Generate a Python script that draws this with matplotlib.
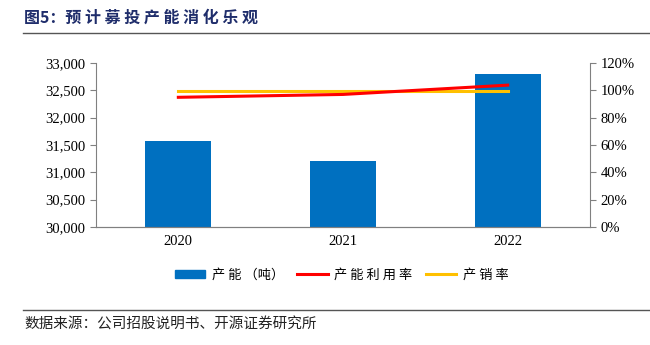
import matplotlib
matplotlib.use('Agg')
import matplotlib.pyplot as plt
from matplotlib.lines import Line2D
from matplotlib.patches import Patch
from matplotlib.ticker import FuncFormatter, PercentFormatter

plt.rcParams['font.family'] = ['Liberation Serif', 'Noto Sans CJK SC']

# data
years = ['2020', '2021', '2022']
capacity = [31580, 31205, 32800]          # 产能（吨）
utilization = [94.9, 97.0, 103.8]         # 产能利用率 %
sell_through = [99.8, 99.8, 99.8]         # 产销率 %

cjk = ['Noto Sans CJK SC', 'DejaVu Sans']

fig = plt.figure(figsize=(6.5, 3.45), dpi=100)
ax = fig.add_axes([96 / 650, 1 - 227 / 345, (590 - 96) / 650, (227 - 63) / 345])
x = range(len(years))
ax.bar(x, capacity, width=0.4, color='#0070C0', zorder=2)
ax.set_ylim(30000, 33000)
ax.set_xlim(-0.5, 2.5)
ax.set_yticks(range(30000, 33001, 500))
ax.yaxis.set_major_formatter(FuncFormatter(lambda v, p: f'{int(v):,}'))
ax.set_xticks(list(x))
ax.set_xticklabels(years)

ax2 = ax.twinx()
ax2.plot(x, sell_through, color='#FFC000', lw=2.2, zorder=3)
ax2.plot(x, utilization, color='#FF0000', lw=2.2, zorder=4)
ax2.set_ylim(0, 120)
ax2.set_yticks(range(0, 121, 20))
ax2.yaxis.set_major_formatter(PercentFormatter(decimals=0))

for a in (ax, ax2):
    a.spines['top'].set_visible(False)
    for s in ('left', 'right', 'bottom'):
        a.spines[s].set_color('#808080')
    a.tick_params(labelsize=10.5, color='#808080', length=4)
ax.spines['right'].set_visible(False)
ax2.spines['left'].set_visible(False)
ax.tick_params(axis='x', length=0, pad=6)
ax.tick_params(axis='y', direction='out')
ax2.tick_params(axis='y', direction='out')

handles = [Patch(color='#0070C0'),
           Line2D([], [], color='#FF0000', lw=2.2),
           Line2D([], [], color='#FFC000', lw=2.2)]
fig.legend(handles, ['产 能 （吨）', '产 能 利 用 率', '产 销 率'],
           loc='center left', bbox_to_anchor=(163 / 650, 1 - 275 / 345), ncol=3,
           frameon=False, prop={'family': cjk, 'size': 9.5},
           handlelength=2.3, handleheight=0.6, handletextpad=0.5,
           columnspacing=1.0)

fig.text(24 / 650, 1 - 18 / 345, '图5：预 计 募 投 产 能 消 化 乐 观', family=cjk,
         fontsize=11.5, fontweight='bold', color='#1F2D6B', va='center')
fig.add_artist(Line2D([23 / 650, 1], [1 - 33 / 345] * 2, color='#555555', lw=1))
fig.add_artist(Line2D([23 / 650, 1], [1 - 310 / 345] * 2, color='#555555', lw=1))
fig.text(24 / 650, 1 - 325 / 345, '数据来源：公司招股说明书、开源证券研究所', family=cjk,
         fontsize=10.5, color='#222222', va='center')

fig.savefig('out.png', dpi=100)
